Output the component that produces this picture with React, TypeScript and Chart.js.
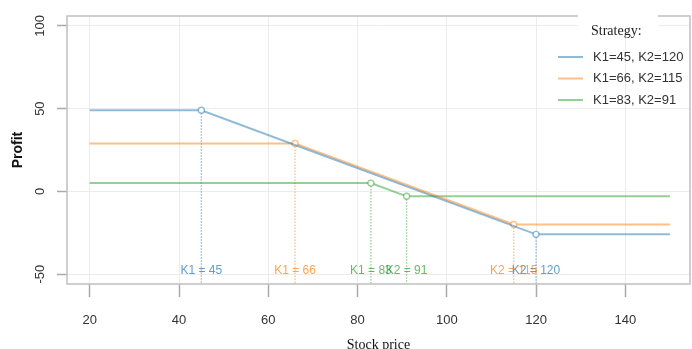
import React, { useEffect, useRef } from "react";
import { Chart, registerables } from "chart.js";

Chart.register(...registerables);

// ---- data ----
const strategyLabels = ["K1=45, K2=120", "K1=66, K2=115", "K1=83, K2=91"];
const strikeK1 = [45, 66, 83];
const strikeK2 = [120, 115, 91];
const maxProfit = [49, 29, 5];
const minProfit = [-26, -20, -3];
const priceStart = 20;
const priceEnd = 150;
const xTickValues = [20, 40, 60, 80, 100, 120, 140];
const yTickValues = [-50, 0, 50, 100];
const strikeLabelProfit = -48;
const legendTitle = "Strategy:";
const xTitle = "Stock price";
const yTitle = "Profit";

// ---- styles ----
const lineColors = ["rgba(31,119,180,0.5)", "rgba(255,127,14,0.5)", "rgba(44,160,44,0.5)"];
const textColors = ["rgba(31,119,180,0.72)", "rgba(255,127,14,0.72)", "rgba(44,160,44,0.72)"];
const X_MIN = 14.9;
const X_MAX = 154.5;
const Y_MIN = -56;
const Y_MAX = 106;

const overlayPlugin = {
  id: "overlay",
  afterDraw(chart: any) {
    const { ctx, chartArea, scales } = chart;
    const xs = scales.x;
    const ys = scales.y;
    ctx.save();
    // plot box
    ctx.strokeStyle = "#c4c4c4";
    ctx.lineWidth = 1.6;
    ctx.strokeRect(chartArea.left, chartArea.top, chartArea.right - chartArea.left, chartArea.bottom - chartArea.top);

    // strike labels
    ctx.font = "12px 'Liberation Sans', Arial, sans-serif";
    ctx.textAlign = "center";
    ctx.textBaseline = "middle";
    const ly = ys.getPixelForValue(strikeLabelProfit);
    for (let i = 0; i < strategyLabels.length; i++) {
      ctx.fillStyle = textColors[i];
      ctx.fillText("K1 = " + strikeK1[i], xs.getPixelForValue(strikeK1[i]), ly);
      ctx.fillText("K2 = " + strikeK2[i], xs.getPixelForValue(strikeK2[i]), ly);
    }

    // legend
    ctx.fillStyle = "#ffffff";
    ctx.fillRect(578, 0, 80, 33);
    ctx.fillStyle = "#222";
    ctx.font = "14px 'Liberation Serif', 'Times New Roman', serif";
    ctx.textAlign = "left";
    ctx.fillText(legendTitle, 591, 31);
    ctx.font = "13px 'Liberation Sans', Arial, sans-serif";
    for (let i = 0; i < strategyLabels.length; i++) {
      const y = 57 + i * 21.5;
      ctx.strokeStyle = lineColors[i];
      ctx.lineWidth = 2;
      ctx.beginPath();
      ctx.moveTo(558, y);
      ctx.lineTo(583, y);
      ctx.stroke();
      ctx.fillStyle = "#333";
      ctx.fillText(strategyLabels[i], 593, y);
    }
    ctx.restore();
  },
};

export default function App() {
  const canvasRef = useRef<HTMLCanvasElement | null>(null);

  useEffect(() => {
    document.body.style.margin = "0";
    const canvas = canvasRef.current;
    if (!canvas) return;

    const datasets: any[] = [];
    for (let i = 0; i < strategyLabels.length; i++) {
      datasets.push({
        label: strategyLabels[i],
        data: [
          { x: priceStart, y: maxProfit[i] },
          { x: strikeK1[i], y: maxProfit[i] },
          { x: strikeK2[i], y: minProfit[i] },
          { x: priceEnd, y: minProfit[i] },
        ],
        borderColor: lineColors[i],
        borderWidth: 2,
        pointRadius: [0, 3, 3, 0],
        pointBorderWidth: 1.4,
        pointBorderColor: lineColors[i],
        pointBackgroundColor: "#ffffff",
        tension: 0,
        order: 1,
      });
    }
    for (let i = 0; i < strategyLabels.length; i++) {
      const pairs = [
        [strikeK1[i], maxProfit[i]],
        [strikeK2[i], minProfit[i]],
      ];
      for (const [k, p] of pairs) {
        datasets.push({
          label: "strike",
          data: [
            { x: k, y: p },
            { x: k, y: Y_MIN },
          ],
          borderColor: lineColors[i],
          borderWidth: 1.3,
          borderDash: [1.5, 1.5],
          pointRadius: 0,
          order: 2,
        });
      }
    }

    const chart = new Chart(canvas, {
      type: "line",
      data: { datasets },
      options: {
        animation: false,
        responsive: false,
        maintainAspectRatio: false,
        layout: { padding: { top: 16, right: 2, left: 0, bottom: 0 } },
        plugins: {
          legend: { display: false },
          tooltip: { enabled: false },
        },
        scales: {
          x: {
            type: "linear",
            min: X_MIN,
            max: X_MAX,
            afterBuildTicks: (scale: any) => {
              scale.ticks = xTickValues.map((v) => ({ value: v }));
            },
            afterFit: (scale: any) => {
              scale.height = 65;
            },
            grid: {
              color: "#ececec",
              lineWidth: 1,
              tickColor: "#aaaaaa",
              tickWidth: 1.5,
              tickLength: 13,
            },
            border: { display: false },
            ticks: {
              color: "#333",
              font: { size: 13, family: "'Liberation Sans', Arial, sans-serif" },
              padding: 16,
              maxRotation: 0,
              minRotation: 0,
            },
            title: {
              display: true,
              text: xTitle,
              color: "#111",
              font: { size: 14, family: "'Liberation Serif', 'Times New Roman', serif", lineHeight: 0.5 },
              padding: { top: 0, bottom: 0 },
            },
          },
          y: {
            type: "linear",
            min: Y_MIN,
            max: Y_MAX,
            afterBuildTicks: (scale: any) => {
              scale.ticks = yTickValues.map((v) => ({ value: v }));
            },
            afterFit: (scale: any) => {
              scale.width = 67;
            },
            grid: {
              color: "#ececec",
              lineWidth: 1,
              tickColor: "#aaaaaa",
              tickWidth: 1.5,
              tickLength: 10,
            },
            border: { display: false },
            ticks: {
              color: "#333",
              font: { size: 13, family: "'Liberation Sans', Arial, sans-serif" },
              padding: 6,
              minRotation: 90,
              maxRotation: 90,
              crossAlign: "center",
            },
            title: {
              display: true,
              text: yTitle,
              color: "#111",
              font: { size: 14, weight: "bold", family: "'Liberation Sans', Arial, sans-serif" },
              padding: { top: 10, bottom: 0 },
            },
          },
        },
      },
      plugins: [overlayPlugin],
    });

    return () => chart.destroy();
  }, []);

  return (
    <div style={{ width: 692, height: 349 }}>
      <canvas ref={canvasRef} width={692} height={349} style={{ display: "block" }} />
    </div>
  );
}
